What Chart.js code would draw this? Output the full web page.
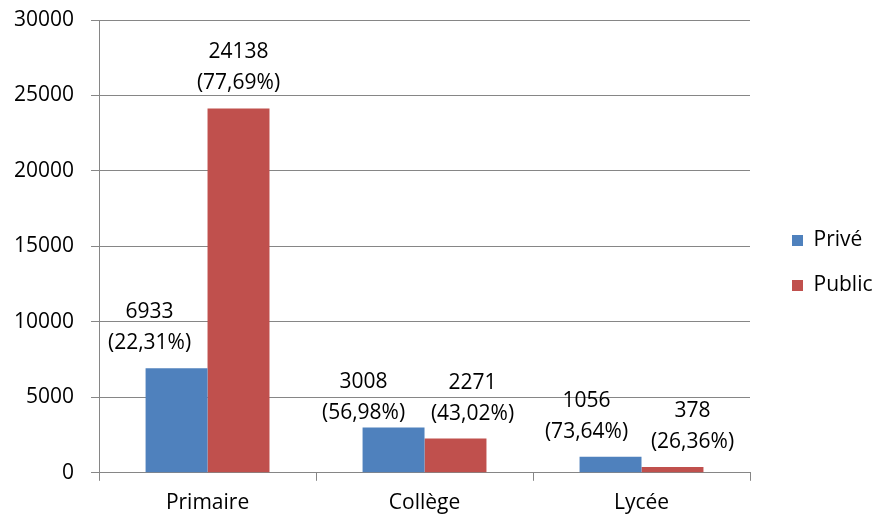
<!DOCTYPE html>
<html>
<head>
<meta charset="utf-8">
<script src="https://cdn.jsdelivr.net/npm/chart.js@4"></script>
<style>
  html, body { margin: 0; padding: 0; background: #fff; }
  #wrap { width: 875px; height: 516px; }
</style>
</head>
<body>
<div id="wrap"><canvas id="chart"></canvas></div>
<script>
const categories = ['Primaire', 'Collège', 'Lycée'];
const priveValues = [6933, 3008, 1056];
const publicValues = [24138, 2271, 378];
const privePct = ['22,31%', '56,98%', '73,64%'];
const publicPct = ['77,69%', '43,02%', '26,36%'];
const yTicks = [0, 5000, 10000, 15000, 20000, 25000, 30000];

const gridGrey = '#868686';
const font = { family: 'Open Sans', size: 21 };

// label nudges (px) so neighbouring labels don't overlap, as in the original
const labelNudge = [
    { dx: [-27, -30, -24], dy: [0, 11, 0] },
    { dx: [0, 17, 20], dy: [0, 0, 0] }
];

// two-line value labels above each bar
const barLabels = {
    id: 'barLabels',
    afterDatasetsDraw(chart) {
        const ctx = chart.ctx;
        ctx.save();
        ctx.font = '21px "Open Sans"';
        ctx.fillStyle = '#000';
        ctx.textAlign = 'center';
        ctx.textBaseline = 'middle';
        chart.data.datasets.forEach((ds, di) => {
            const meta = chart.getDatasetMeta(di);
            const n = labelNudge[di];
            meta.data.forEach((bar, i) => {
                const x = bar.x + n.dx[i];
                const y = bar.y + n.dy[i];
                ctx.fillText(String(ds.data[i]), x, y - 56);
                ctx.fillText('(' + ds.pct[i] + ')', x, y - 25);
            });
        });
        ctx.restore();
    }
};

const ctx = document.getElementById('chart').getContext('2d');
const chart = new Chart(ctx, {
    type: 'bar',
    data: {
        labels: categories,
        datasets: [{
            label: 'Privé',
            data: priveValues,
            pct: privePct,
            backgroundColor: '#4F81BD',
            yAxisID: 'y'
        }, {
            label: 'Public',
            data: publicValues,
            pct: publicPct,
            backgroundColor: '#C0504D',
            yAxisID: 'y'
        }]
    },
    options: {
        responsive: true,
        maintainAspectRatio: false,
        animation: false,
        datasets: { bar: { categoryPercentage: 0.571, barPercentage: 1 } },
        layout: { padding: { left: -3, top: 0, right: 0, bottom: -10 } },
        plugins: {
            tooltip: { enabled: false },
            legend: {
                position: 'right',
                maxWidth: 107,
                labels: {
                    boxWidth: 11,
                    boxHeight: 11,
                    padding: 24,
                    color: '#000',
                    font: font
                }
            }
        },
        scales: {
            x: {
                grid: { display: true, drawOnChartArea: false, color: gridGrey, tickLength: 8, offset: true },
                border: { color: gridGrey },
                ticks: { color: '#000', font: font, padding: 10 }
            },
            y: {
                min: 0,
                max: 30000,
                afterBuildTicks: s => { s.ticks = yTicks.map(v => ({ value: v })); },
                afterFit: s => { s.paddingTop = 20; },
                grid: { color: gridGrey, tickLength: 8 },
                border: { color: gridGrey },
                ticks: { color: '#000', font: font, padding: 17, callback: v => String(v) }
            },
            gap: {
                position: 'right',
                display: true,
                grid: { display: false },
                border: { display: false },
                ticks: { display: false },
                afterFit: s => { s.width = 18; }
            }
        }
    },
    plugins: [barLabels]
});
</script>
</body>
</html>
